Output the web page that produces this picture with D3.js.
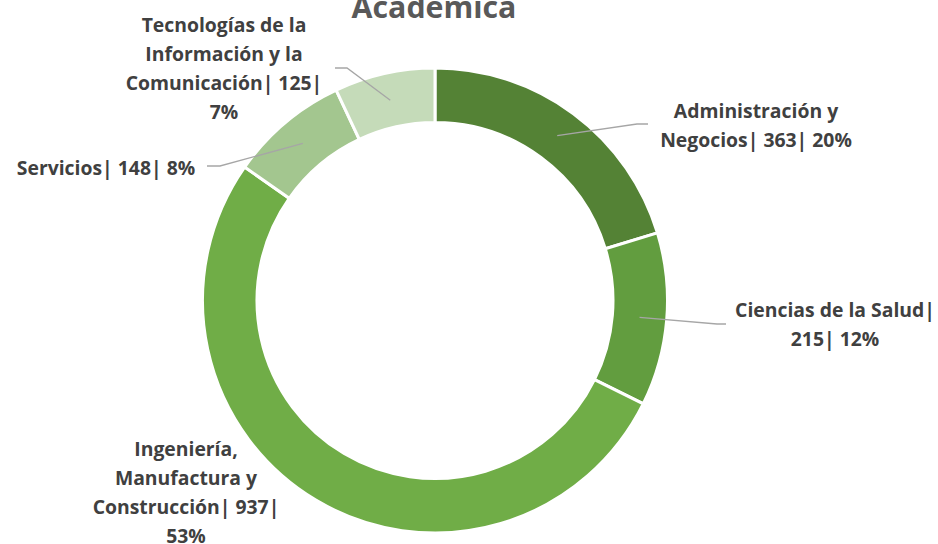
<!DOCTYPE html>
<html>
<head>
<meta charset="utf-8">
<script src="https://cdn.jsdelivr.net/npm/d3@7"></script>
<style>
  body { margin: 0; background: #fff; }
  svg text { font-family: "Open Sans", Lato, sans-serif; font-weight: bold; }
</style>
</head>
<body>
<svg id="chart" width="938" height="544"></svg>
<script>
// data
const categories = ["Administración y Negocios", "Ciencias de la Salud", "Ingeniería, Manufactura y Construcción", "Servicios", "Tecnologías de la Información y la Comunicación"];
const counts = [363, 215, 937, 148, 125];
const percents = ["20%", "12%", "53%", "8%", "7%"];
const colors = ["#548235", "#629D3F", "#70AD47", "#A3C68F", "#C5DBB9"];
const title = "Académica";

// label lines (as wrapped in the chart) and where they sit
const label_lines = [
    ["Administración y", "Negocios| 363| 20%"],
    ["Ciencias de la Salud|", "215| 12%"],
    ["Ingeniería,", "Manufactura y", "Construcción| 937|", "53%"],
    ["Servicios| 148| 8%"],
    ["Tecnologías de la", "Información y la", "Comunicación| 125|", "7%"]
];
const label_pos = [ // center x, first baseline y, leader end x,y (null = no leader)
    { x: 756, y: 118, lx: 648, ly: 124, kx: 637 },
    { x: 835, y: 317, lx: 726, ly: 324, kx: 717 },
    { x: 186, y: 456, lx: null },
    { x: 106, y: 175, lx: 207, ly: 166, kx: 220 },
    { x: 224, y: 32, lx: 335, ly: 68, kx: 347 }
];

const svg = d3.select("#chart");
const cx = 435, cy = 300.5, r_out = 232.5, r_in = 178;
const line_h = 29;

// fit a font size so a sample text gets a given width
function fit_size(p_text, p_width) {
    var t = svg.append("text").style("font-size", "20px").text(p_text);
    var w = t.node().getComputedTextLength();
    t.remove();
    return 20 * p_width / w;
}
const title_size = fit_size(title, 165);
const label_size = fit_size("Ciencias de la Salud|", 200);

// title (cut at top like the original)
svg.append("text")
    .attr("x", 434).attr("y", 18)
    .attr("text-anchor", "middle")
    .attr("fill", "#595959")
    .style("font-size", title_size + "px")
    .text(title);

// donut
const pie = d3.pie().sort(null).value(d => d);
const arc = d3.arc().innerRadius(r_in).outerRadius(r_out);
const arcs = pie(counts);
const g = svg.append("g").attr("transform", "translate(" + cx + "," + cy + ")");
g.selectAll(".slice").data(arcs).join("path").classed("slice", true)
    .attr("d", arc)
    .attr("fill", (d, i) => colors[i])
    .attr("stroke", "#fff").attr("stroke-width", 3);

// leader lines
arcs.forEach(function (a, i) {
    var p = label_pos[i];
    if (p.lx == null) return;
    var c = arc.centroid(a);
    svg.append("path")
        .attr("d", "M" + (cx + c[0]) + "," + (cy + c[1]) + "L" + p.kx + "," + p.ly + "L" + p.lx + "," + p.ly)
        .attr("fill", "none").attr("stroke", "#A6A6A6").attr("stroke-width", 1.3);
});

// labels
label_lines.forEach(function (lines, i) {
    var p = label_pos[i];
    var t = svg.append("text")
        .attr("text-anchor", "middle")
        .attr("fill", "#404040")
        .style("font-size", label_size + "px");
    lines.forEach(function (ln, j) {
        t.append("tspan").attr("x", p.x).attr("y", p.y + j * line_h).text(ln);
    });
});
</script>
</body>
</html>
